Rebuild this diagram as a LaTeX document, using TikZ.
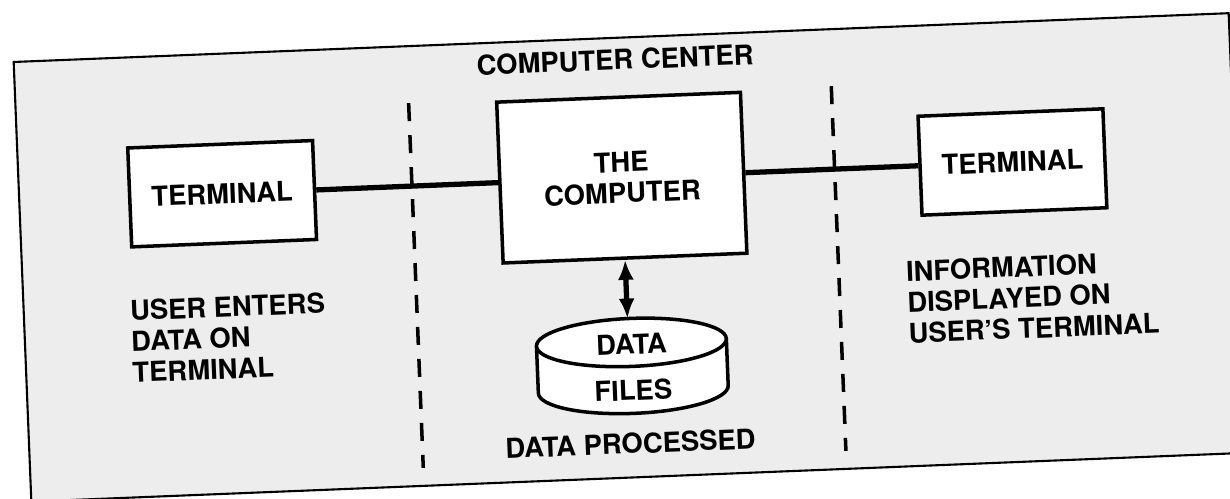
\documentclass[tikz,border=0pt]{standalone}
\usepackage{fontspec}
\setmainfont{TeX Gyre Heros}
\usetikzlibrary{arrows.meta}

\tikzset{
  box/.style={draw, line width=2pt, fill=white, minimum width=3.7cm, minimum height=1.98cm, align=center},
  note/.style={align=left, anchor=west, inner sep=0pt},
  link/.style={line width=3pt},
  divider/.style={line width=2pt, dash pattern=on 0.36cm off 0.28cm},
}

\begin{document}
\begin{tikzpicture}[x=0.02cm, y=-0.02cm, font=\bfseries\fontsize{15.6}{17.6}\selectfont]
  \useasboundingbox (0,0) rectangle (1230,498);
  \begin{scope}[rotate around={2.3:(615,258)}, transform shape]
    % Tinted frame of the centre
    \draw [line width=1.2pt, fill=black!7] (22,38) rectangle (1238,478);
    \node (centre) at (623,60) {COMPUTER CENTER};

    % Dividers
    \draw [divider] (415,95) -- (415,460);
    \draw [divider] (838,95) -- (838,460);

    % Terminals and the computer
    \node [box] (lterm) at (225,178) {TERMINAL};
    \node [box, minimum width=4.88cm, minimum height=3.22cm] (comp) at (625,178) {THE\\COMPUTER};
    \node [box] (rterm) at (1016,178) {TERMINAL};
    \draw [link] (lterm) -- (comp);
    \draw [link] (comp) -- (rterm);

    % Data files drum
    \draw [line width=2pt, fill=white] (533,343) -- (533,390)
      arc [start angle=180, end angle=0, x radius=95, y radius=24] -- (723,343);
    \draw [line width=2pt, fill=white] (628,343) ellipse [x radius=95, y radius=24];
    \coordinate (drumtop) at (628,319);
    \node [align=center] (files) at (628,368) {DATA\\[8.5pt]FILES};
    \draw [line width=3pt, {Latex[length=0.4cm,width=0.32cm]}-{Latex[length=0.4cm,width=0.32cm]}]
      (comp.south) -- (comp.south |- drumtop);
    \node (proc) at (623,444) {DATA PROCESSED};

    % Notes under the terminals
    \node [note] (user) at (128,322) {USER ENTERS\\DATA ON\\TERMINAL};
    \node [note] (info) at (905,314) {INFORMATION\\DISPLAYED ON\\USER'S TERMINAL};
  \end{scope}
\end{tikzpicture}
\end{document}
